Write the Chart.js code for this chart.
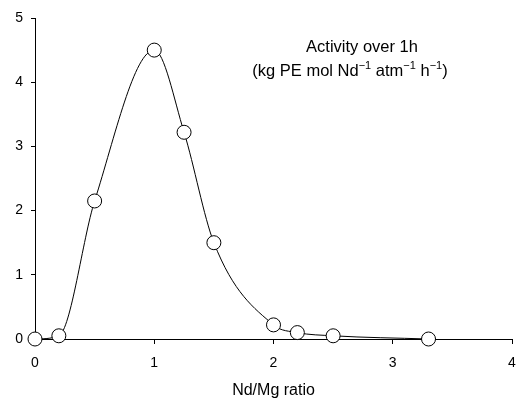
<!DOCTYPE html>
<html>
<head>
<meta charset="utf-8">
<script src="https://cdn.jsdelivr.net/npm/chart.js@4"></script>
<style>
  html, body { margin: 0; padding: 0; background: #fff; }
  #wrap { width: 516px; height: 400px; }
</style>
</head>
<body>
<div id="wrap"><canvas id="grafico"></canvas></div>
<script>
// Nd/Mg ratio vs activity
const razao = [0, 0.2, 0.5, 1.0, 1.25, 1.5, 2.0, 2.2, 2.5, 3.3];
const atividade = [0, 0.05, 2.15, 4.5, 3.22, 1.5, 0.22, 0.1, 0.05, 0.0];
const xTicks = [0, 1, 2, 3, 4];
const yTicks = [0, 1, 2, 3, 4, 5];

const fonte = 'Liberation Sans, Arial, Helvetica, sans-serif';

// anotação com expoentes
const anotacao = {
    id: 'anotacao',
    afterDraw(chart) {
        const ctx = chart.ctx;
        ctx.save();
        ctx.fillStyle = '#000';
        ctx.textBaseline = 'alphabetic';
        ctx.font = '16.5px ' + fonte;
        ctx.textAlign = 'center';
        ctx.fillText('Activity over 1h', 362, 52);

        const partes = [
            ['(kg PE mol Nd', false], ['\u22121', true],
            [' atm', false], ['\u22121', true],
            [' h', false], ['\u22121', true], [')', false]
        ];
        const larg = partes.map(([t, sup]) => {
            ctx.font = (sup ? '11px ' : '16.5px ') + fonte;
            return ctx.measureText(t).width;
        });
        let x = 350 - larg.reduce((a, b) => a + b, 0) / 2;
        ctx.textAlign = 'left';
        partes.forEach(([t, sup], i) => {
            ctx.font = (sup ? '11px ' : '16.5px ') + fonte;
            ctx.fillText(t, x, sup ? 69 : 76);
            x += larg[i];
        });
        ctx.restore();
    }
};

const ctxGrafico = document.getElementById('grafico').getContext('2d');
new Chart(ctxGrafico, {
    type: 'line',
    data: {
        datasets: [{
            label: 'Activity',
            data: razao.map((r, i) => ({ x: r, y: atividade[i] })),
            borderColor: '#000',
            borderWidth: 1,
            cubicInterpolationMode: 'monotone',
            pointRadius: 7,
            pointBackgroundColor: '#fff',
            pointBorderColor: '#000',
            pointBorderWidth: 1,
            clip: false
        }]
    },
    options: {
        responsive: true,
        maintainAspectRatio: false,
        animation: false,
        layout: { autoPadding: false, padding: { top: 18, right: 4, left: 0, bottom: 0 } },
        plugins: { legend: { display: false }, tooltip: { enabled: false } },
        scales: {
            x: {
                type: 'linear',
                min: 0,
                max: 4,
                afterBuildTicks: s => { s.ticks = xTicks.map(v => ({ value: v })); },
                afterFit: s => { s.height = 61; s.paddingRight = 0; s.paddingLeft = 0; },
                ticks: { color: '#000', font: { family: fonte, size: 14 }, padding: 11, maxRotation: 0 },
                grid: { drawOnChartArea: false, color: '#000', tickLength: 5 },
                border: { color: '#000', width: 1 },
                title: { display: true, text: 'Nd/Mg ratio', color: '#000', font: { family: fonte, size: 16 }, padding: { top: 6, bottom: 0 } }
            },
            y: {
                min: 0,
                max: 5,
                afterBuildTicks: s => { s.ticks = yTicks.map(v => ({ value: v })); },
                afterFit: s => { s.width = 35; s.paddingTop = 0; s.paddingBottom = 0; },
                ticks: { color: '#000', font: { family: fonte, size: 14 }, padding: 8 },
                grid: { drawOnChartArea: false, color: '#000', tickLength: 4 },
                border: { color: '#000', width: 1 }
            }
        }
    },
    plugins: [anotacao]
});
</script>
</body>
</html>
